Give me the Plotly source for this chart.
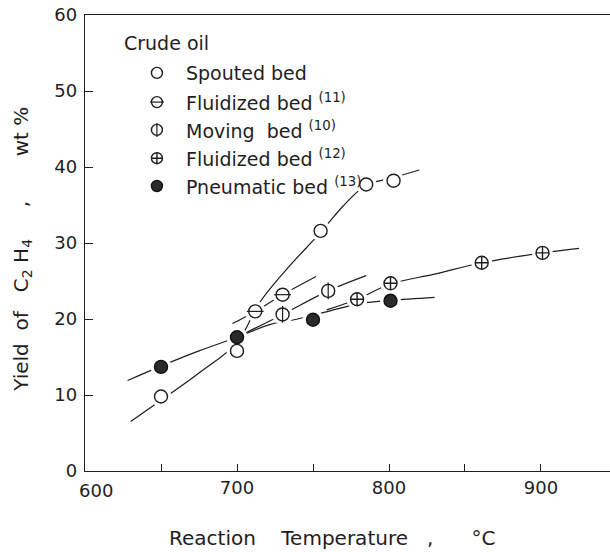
import plotly.graph_objects as go

# ---------------- data ----------------
spouted_T = [650, 700, 755, 785, 803]
spouted_Y = [9.8, 15.8, 31.6, 37.7, 38.2]

fluid11_T = [712, 730]
fluid11_Y = [21.0, 23.2]

moving10_T = [730, 760]
moving10_Y = [20.6, 23.7]

fluid12_T = [779, 801, 861, 901]
fluid12_Y = [22.6, 24.7, 27.4, 28.7]

pneum13_T = [650, 700, 750, 801]
pneum13_Y = [13.7, 17.6, 19.9, 22.4]

# hand-drawn trend curves
spouted_curve_T = [630, 650, 675, 700, 715, 732, 755, 770, 785, 803, 820]
spouted_curve_Y = [6.5, 9.3, 12.9, 16.9, 22.2, 26.4, 31.4, 34.9, 37.6, 38.6, 39.6]

fluid11_curve_T = [697, 712, 730, 752]
fluid11_curve_Y = [19.4, 21.0, 23.2, 25.6]

moving10_curve_T = [704, 730, 760, 785]
moving10_curve_Y = [18.0, 20.6, 23.7, 25.7]

fluid12_curve_T = [759, 779, 801, 830, 861, 901, 925]
fluid12_curve_Y = [21.2, 22.6, 24.6, 25.9, 27.4, 28.7, 29.3]

pneum13_curve_T = [628, 650, 675, 700, 722, 740, 760, 780, 801, 830]
pneum13_curve_Y = [11.9, 13.8, 15.8, 17.6, 19.3, 20.0, 21.0, 22.0, 22.45, 22.85]

x_ticks = [600, 700, 800, 900]
y_ticks = [0, 10, 20, 30, 40, 50, 60]

x_title = "Reaction\u00a0\u00a0\u00a0\u00a0Temperature\u00a0\u00a0\u00a0,\u00a0\u00a0\u00a0\u00a0\u00a0\u00a0°C"
y_title = ("Yield\u00a0\u00a0of\u00a0\u00a0\u00a0C<sub>2</sub>\u00a0H<sub>4</sub>"
           "\u00a0\u00a0\u00a0\u00a0\u00a0,\u00a0\u00a0\u00a0\u00a0\u00a0\u00a0\u00a0wt\u00a0%")

legend_title = "Crude oil"
legend_labels = [
    "Spouted bed",
    "Fluidized bed <sup>(11)</sup>",
    "Moving\u00a0\u00a0bed <sup>(10)</sup>",
    "Fluidized bed <sup>(12)</sup>",
    "Pneumatic bed <sup>(13)</sup>",
]

# ---------------- styling ----------------
INK = "#1e1e1e"
FONT = "DejaVu Sans"
MS = 13          # data marker size
LMS = 11         # legend marker size
HALO = 21        # white gap around data markers
TICKF = 18
TEXTF = 19
TITLEF = 20

fig = go.Figure()

curves = [
    (spouted_curve_T, spouted_curve_Y),
    (fluid11_curve_T, fluid11_curve_Y),
    (moving10_curve_T, moving10_curve_Y),
    (fluid12_curve_T, fluid12_curve_Y),
    (pneum13_curve_T, pneum13_curve_Y),
]
for cx, cy in curves:
    fig.add_trace(go.Scatter(x=cx, y=cy, mode="lines",
                             line=dict(color=INK, width=1.2, shape="spline", smoothing=1.0),
                             hoverinfo="skip", showlegend=False))

series = [
    (spouted_T, spouted_Y),
    (fluid11_T, fluid11_Y),
    (moving10_T, moving10_Y),
    (fluid12_T, fluid12_Y),
    (pneum13_T, pneum13_Y),
]
# white halos give the small breaks in the lines around each symbol
for sx, sy in series:
    fig.add_trace(go.Scatter(x=sx, y=sy, mode="markers",
                             marker=dict(symbol="circle", size=HALO, color="white", line=dict(width=0)),
                             hoverinfo="skip", showlegend=False))


def add_symbol(kind, xs, ys, size, xaxis="x", yaxis="y"):
    lw = 1.4
    if kind in ("open", "hbar", "vbar"):
        fig.add_trace(go.Scatter(x=xs, y=ys, mode="markers", xaxis=xaxis, yaxis=yaxis,
                                 marker=dict(symbol="circle", size=size, color="white",
                                             line=dict(color=INK, width=lw)),
                                 showlegend=False))
        if kind != "open":
            fig.add_trace(go.Scatter(x=xs, y=ys, mode="markers", xaxis=xaxis, yaxis=yaxis,
                                     marker=dict(symbol="line-ew" if kind == "hbar" else "line-ns",
                                                 size=size - 1, color=INK,
                                                 line=dict(color=INK, width=1.2)),
                                     hoverinfo="skip", showlegend=False))
    elif kind == "cross":
        fig.add_trace(go.Scatter(x=xs, y=ys, mode="markers", xaxis=xaxis, yaxis=yaxis,
                                 marker=dict(symbol="circle-cross", size=size, color="white",
                                             line=dict(color=INK, width=lw)),
                                 showlegend=False))
    elif kind == "filled":
        fig.add_trace(go.Scatter(x=xs, y=ys, mode="markers", xaxis=xaxis, yaxis=yaxis,
                                 marker=dict(symbol="circle", size=size, color="#2a2a2a",
                                             line=dict(color="#111111", width=lw)),
                                 showlegend=False))


kinds = ["open", "hbar", "vbar", "cross", "filled"]
for kind, (sx, sy) in zip(kinds, series):
    add_symbol(kind, sx, sy, MS)

# ---------------- hand-placed legend (layout positions, plot-area fractions) ----------------
leg_x_sym = 0.137
leg_x_txt = 0.188
leg_rows = [0.873, 0.809, 0.748, 0.686, 0.625]
for kind, ry in zip(kinds, leg_rows):
    add_symbol(kind, [leg_x_sym], [ry], LMS, xaxis="x2", yaxis="y2")

annotations = [dict(x=0.071, y=0.939, xref="paper", yref="paper", text=legend_title,
                    showarrow=False, xanchor="left", yanchor="middle",
                    font=dict(family=FONT, size=TEXTF, color=INK))]
for label, ry in zip(legend_labels, leg_rows):
    annotations.append(dict(x=leg_x_txt, y=ry, xref="paper", yref="paper", text=label,
                            showarrow=False, xanchor="left", yanchor="middle",
                            font=dict(family=FONT, size=TEXTF, color=INK)))

# the first x tick label sits to the right of the corner, as in the original
annotations.append(dict(x=x_ticks[0], y=0, xref="x", yref="paper", text=str(x_ticks[0]),
                        showarrow=False, xanchor="left", yanchor="top", xshift=-8, yshift=-7,
                        font=dict(family=FONT, size=TICKF, color=INK)))

# axis titles, placed where the original has them
annotations.append(dict(x=0.471, y=-0.147, xref="paper", yref="paper", text=x_title,
                        showarrow=False, xanchor="center", yanchor="middle",
                        font=dict(family=FONT, size=TITLEF, color=INK)))
annotations.append(dict(x=-0.12, y=0.485, xref="paper", yref="paper", text=y_title,
                        showarrow=False, xanchor="center", yanchor="middle", textangle=-90,
                        font=dict(family=FONT, size=TITLEF, color=INK)))

fig.update_layout(
    width=610, height=552,
    margin=dict(l=85, r=0, t=15, b=81),
    paper_bgcolor="white", plot_bgcolor="white",
    showlegend=False,
    annotations=annotations,
    xaxis=dict(
        range=[600, 945.4], tickmode="array", tickvals=x_ticks,
        ticktext=[""] + [str(v) for v in x_ticks[1:]],
        ticks="inside", ticklen=7, tickwidth=1.2, tickcolor=INK,
        minor=dict(dtick=50, ticks="inside", ticklen=7, tickwidth=1.2, tickcolor=INK, showgrid=False),
        showline=True, linecolor=INK, linewidth=1.4, mirror=True,
        showgrid=False, zeroline=False,
        tickfont=dict(family=FONT, size=TICKF, color=INK),
    ),
    yaxis=dict(
        range=[0, 60], tickmode="array", tickvals=y_ticks,
        ticks="inside", ticklen=8, tickwidth=1.2, tickcolor=INK,
        showline=True, linecolor=INK, linewidth=1.4,
        showgrid=False, zeroline=False,
        tickfont=dict(family=FONT, size=TICKF, color=INK),
        ticklabelstandoff=3,
    ),
    xaxis2=dict(overlaying="x", range=[0, 1], visible=False, fixedrange=True),
    yaxis2=dict(overlaying="y", range=[0, 1], visible=False, fixedrange=True),
)

fig.write_html("out.html")
